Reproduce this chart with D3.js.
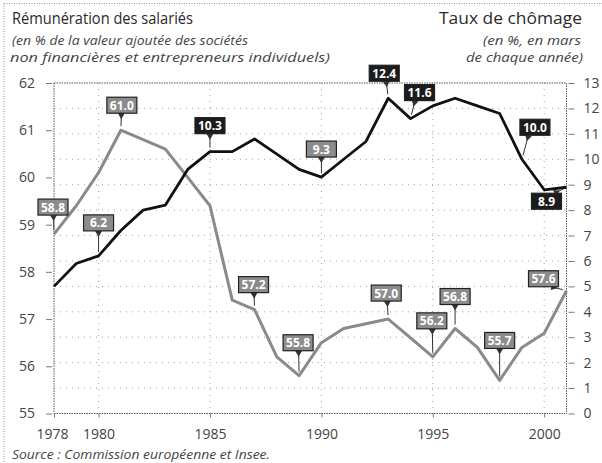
<!DOCTYPE html>
<html><head><meta charset="utf-8">
<script src="https://cdn.jsdelivr.net/npm/d3@7"></script>
<style>
body{margin:0;background:#fff;}
svg{display:block;font-family:"Open Sans",sans-serif;}
</style></head><body>
<svg id="chart" width="602" height="463"></svg>
<script>
// ---------- data ----------
const years = [1978,1979,1980,1981,1982,1983,1984,1985,1986,1987,1988,1989,1990,1991,1992,1993,1994,1995,1996,1997,1998,1999,2000,2001];
const remuneration = [58.8,59.4,60.1,61.0,60.8,60.6,60.0,59.4,57.4,57.2,56.2,55.8,56.5,56.8,56.9,57.0,56.6,56.2,56.8,56.4,55.7,56.4,56.7,57.6];
const chomage = [5.0,5.9,6.2,7.2,8.0,8.2,9.6,10.3,10.3,10.8,10.2,9.6,9.3,10.0,10.7,12.4,11.6,12.1,12.4,12.1,11.8,10.0,8.8,8.9];
const leftTicks = [55,56,57,58,59,60,61,62];
const rightTicks = [0,1,2,3,4,5,6,7,8,9,10,11,12,13];
const xTickYears = [1978,1980,1985,1990,1995,2000];
const gridYears = [1980,1985,1990,1995,2000];
// labelled points: series, year
const remLabelYears = [1978,1981,1987,1989,1993,1995,1996,1998,2001];
const choLabelYears = [1980,1985,1990,1993,1994,1999,2001];

// ---------- layout (not data) ----------
const labelOffset = {
  "r1978":[-1,-27],"r1981":[1,-25],"r1987":[-1,-25],"r1989":[-1,-33],"r1993":[-2,-26],
  "r1995":[-1,-36],"r1996":[0,-32],"r1998":[0,-40],"r2001":[-23,-12],
  "c1980":[0,-33],"c1985":[0,-26],"c1990":[0,-28],"c1993":[-4,-25],"c1994":[9,-26],
  "c1999":[13,-32],"c2001":[-20,14]
};
const darkLabels = ["c1985","c1993","c1994","c1999","c2001"];

const svg = d3.select("#chart");
const x = d3.scaleLinear().domain([1978,2001]).range([54,566.5]);
const yL = d3.scaleLinear().domain([55,62]).range([413.5,83]);
const yR = d3.scaleLinear().domain([0,13]).range([413.5,83]);

const ink = "#2a2a2a";

// outer frame (dotted)
svg.append("line").attr("x1",4).attr("x2",602).attr("y1",3.5).attr("y2",3.5)
  .attr("stroke","#777").attr("stroke-dasharray","1,1.5").attr("stroke-width",0.8);
svg.append("line").attr("x1",4).attr("x2",4).attr("y1",3.5).attr("y2",463)
  .attr("stroke","#777").attr("stroke-dasharray","1,1.5").attr("stroke-width",0.8);

// grid
const grid = svg.append("g").attr("stroke","#8a8a8a").attr("stroke-width",0.8).attr("stroke-dasharray","1,5");
grid.selectAll("line.h").data(rightTicks.filter(d=>d>0 && d<13)).join("line")
  .attr("x1",x(1978)).attr("x2",x(2001)).attr("y1",d=>yR(d)).attr("y2",d=>yR(d));
grid.selectAll("line.v").data(gridYears).join("line")
  .attr("x1",d=>x(d)).attr("x2",d=>x(d)).attr("y1",yR(13)).attr("y2",yR(0));

// frame of plot
const frame = svg.append("g").attr("stroke","#444").attr("stroke-width",0.9).attr("stroke-dasharray","1.5,1");
frame.append("line").attr("x1",x(1978)).attr("x2",x(2001)).attr("y1",yR(13)).attr("y2",yR(13));
frame.append("line").attr("x1",x(1978)).attr("x2",x(2001)).attr("y1",yR(0)).attr("y2",yR(0));
frame.append("line").attr("x1",x(1978)).attr("x2",x(1978)).attr("y1",yR(13)).attr("y2",yR(0));
frame.append("line").attr("x1",x(2001)).attr("x2",x(2001)).attr("y1",yR(13)).attr("y2",yR(0));

// axes
const axL = d3.axisLeft(yL).tickValues(leftTicks).tickSize(6).tickPadding(11).tickFormat(d3.format("d"));
const gL = svg.append("g").attr("transform",`translate(${x(1978)-2},0)`).call(axL);
const axR = d3.axisRight(yR).tickValues(rightTicks).tickSize(6).tickPadding(9).tickFormat(d3.format("d"));
const gR = svg.append("g").attr("transform",`translate(${x(2001)+2},0)`).call(axR);
const axB = d3.axisBottom(x).tickValues(xTickYears).tickSize(4).tickPadding(12).tickFormat(d3.format("d"));
const gB = svg.append("g").attr("transform",`translate(0,${yR(0)})`).call(axB);
[gL,gR,gB].forEach(g=>{
  g.select(".domain").remove();
  g.selectAll(".tick line").attr("stroke","#555").attr("stroke-width",0.8);
  g.selectAll(".tick text").attr("fill","#444").style("font-size","14px").style("font-family","'Open Sans',sans-serif");
});
gB.selectAll(".tick text").attr("dx", d=> d===1978 ? -2 : 0);

// lines
const lineRem = d3.line().x((d,i)=>x(years[i])).y(d=>yL(d));
const lineCho = d3.line().x((d,i)=>x(years[i])).y(d=>yR(d));
svg.append("path").datum(remuneration).attr("d",lineRem).attr("fill","none")
  .attr("stroke","#8a8a8a").attr("stroke-width",3).attr("stroke-linejoin","round");
svg.append("path").datum(chomage).attr("d",lineCho).attr("fill","none")
  .attr("stroke","#111").attr("stroke-width",2.8).attr("stroke-linejoin","round");

// labels
const labels = [];
remLabelYears.forEach(yr=>{const i=years.indexOf(yr);labels.push({key:"r"+yr,px:x(yr),py:yL(remuneration[i]),v:remuneration[i]});});
choLabelYears.forEach(yr=>{const i=years.indexOf(yr);labels.push({key:"c"+yr,px:x(yr),py:yR(chomage[i]),v:chomage[i]});});
const fmt = d3.format(".1f");
const bw=30,bh=16;
const lg = svg.append("g");
labels.forEach(l=>{
  const [dx,dy]=labelOffset[l.key];
  const cx=l.px+dx, cy=l.py+dy;
  const dark = darkLabels.includes(l.key);
  let ax, ay;
  if (Math.abs(dy) < bh/2+4) { ax = cx + (dx<0? bw/2 : -bw/2); ay = cy; }
  else { ax = cx + Math.max(-8,Math.min(8,dx*-0.5)); ay = cy + (dy<0? bh/2 : -bh/2); }
  const vx=l.px-ax, vy=l.py-ay, len=Math.hypot(vx,vy);
  const ex=l.px - vx/len*4, ey=l.py - vy/len*4;
  lg.append("line").attr("x1",ax).attr("y1",ay).attr("x2",ex).attr("y2",ey)
    .attr("stroke","#333").attr("stroke-width",1);
  const ux=vx/len, uy=vy/len, nx=-uy, ny=ux;
  lg.append("path").attr("d",`M${ax+nx*3.5},${ay+ny*3.5}L${ax+ux*6},${ay+uy*6}L${ax-nx*3.5},${ay-ny*3.5}Z`)
    .attr("fill","#333");
  lg.append("rect").attr("x",cx-bw/2).attr("y",cy-bh/2).attr("width",bw).attr("height",bh)
    .attr("fill",dark?"#1c1c1c":"#8c8c8c").attr("stroke","#222").attr("stroke-width",1.2);
  lg.append("text").attr("x",cx).attr("y",cy+4.5).attr("text-anchor","middle")
    .attr("fill","#fff").style("font-size","12px").style("font-weight","bold")
    .text(fmt(l.v));
});

// titles
function txt(xp, yp, s, size, opts){
  const t = svg.append("text").attr("x",xp).attr("y",yp).attr("fill",opts.fill||ink)
    .style("font-size",size+"px").text(s);
  if (opts.italic) t.style("font-style","italic");
  if (opts.anchor) t.attr("text-anchor",opts.anchor);
  if (opts.len) t.attr("textLength",opts.len).attr("lengthAdjust","spacingAndGlyphs");
  return t;
}
txt(12,24,"Rémunération des salariés",16.5,{len:181});
txt(12,45,"(en % de la valeur ajoutée des sociétés",13.5,{italic:true,fill:"#444",len:236});
txt(10,62,"non financières et entrepreneurs individuels)",13.5,{italic:true,fill:"#444",len:320});
txt(582,24,"Taux de chômage",16.5,{anchor:"end",len:143});
txt(581,45,"(en %, en mars",13.5,{italic:true,fill:"#444",anchor:"end",len:98});
txt(583,62,"de chaque année)",13.5,{italic:true,fill:"#444",anchor:"end",len:117});
txt(12,459,"Source : Commission européenne et Insee.",12.5,{italic:true,fill:"#444",len:258});
</script>
</body></html>
